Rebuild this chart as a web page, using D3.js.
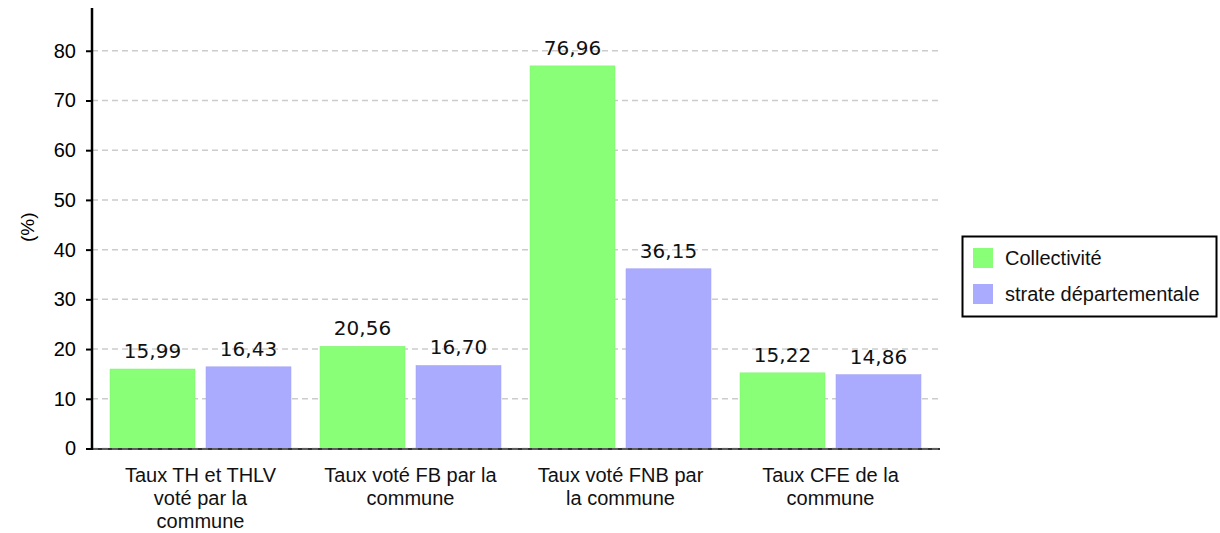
<!DOCTYPE html>
<html>
<head>
<meta charset="utf-8">
<script src="https://cdn.jsdelivr.net/npm/d3@7"></script>
<style>
  body { margin: 0; background: #fff; }
  svg { display: block; }
</style>
</head>
<body>
<div id="chart"></div>
<script>
const categories = [
  ['Taux TH et THLV', 'voté par la', 'commune'],
  ['Taux voté FB par la', 'commune'],
  ['Taux voté FNB par', 'la commune'],
  ['Taux CFE de la', 'commune']
];
const seriesNames = ['Collectivité', 'strate départementale'];
const collectivite = [15.99, 20.56, 76.96, 15.22];
const strate = [16.43, 16.70, 36.15, 14.86];
const yTicks = [0, 10, 20, 30, 40, 50, 60, 70, 80];
const colors = ['#88ff77', '#aaaaff'];

const width = 1220;
const height = 533;
const margin = { top: 8, left: 92, bottom: 84, right: 280 };
const font = 'Liberation Sans, Arial, sans-serif';

const svg = d3.select('#chart').append('svg')
  .attr('width', width)
  .attr('height', height);

const x = d3.scaleBand()
  .domain(d3.range(categories.length))
  .range([95.5, 935.5]);

// 85px bars, 11px gap, 14.5px at each side of a group
const x1 = d3.scaleBand()
  .domain(d3.range(seriesNames.length))
  .range([0, x.bandwidth()])
  .paddingInner(11 / 96)
  .paddingOuter(14.5 / 96);

const y = d3.scaleLinear()
  .domain([0, 88.6])
  .range([height - margin.bottom - 0.5, margin.top]);

// grid
svg.append('g')
  .selectAll('line')
  .data(yTicks)
  .join('line')
  .attr('x1', margin.left)
  .attr('x2', 940)
  .attr('y1', (d) => y(d))
  .attr('y2', (d) => y(d))
  .attr('stroke', '#cccccc')
  .attr('stroke-width', 1.5)
  .attr('stroke-dasharray', '6,4');

// bars
const data = [collectivite, strate];
const groups = svg.append('g')
  .selectAll('g')
  .data(categories.map((c, i) => i))
  .join('g')
  .attr('transform', (i) => `translate(${x(i)},0)`);

groups.selectAll('rect')
  .data((i) => data.map((s, j) => ({ j, v: s[i] })))
  .join('rect')
  .attr('x', (d) => x1(d.j))
  .attr('width', x1.bandwidth())
  .attr('y', (d) => y(d.v))
  .attr('height', (d) => y(0) - y(d.v))
  .attr('fill', (d) => colors[d.j])
  .attr('stroke', (d) => d3.color(colors[d.j]).darker(0.15))
  .attr('stroke-width', 0.5);

groups.selectAll('text.val')
  .data((i) => data.map((s, j) => ({ j, v: s[i] })))
  .join('text')
  .attr('class', 'val')
  .attr('x', (d) => x1(d.j) + x1.bandwidth() / 2)
  .attr('y', (d) => y(d.v) - 11)
  .attr('text-anchor', 'middle')
  .attr('font-family', 'DejaVu Sans')
  .attr('font-size', 20)
  .attr('fill', '#111')
  .text((d) => d.v.toFixed(2).replace('.', ','));

// zero baseline
svg.append('line')
  .attr('x1', margin.left)
  .attr('x2', 940)
  .attr('y1', y(0) + 0.5)
  .attr('y2', y(0) + 0.5)
  .attr('stroke', '#333')
  .attr('stroke-width', 2);
svg.append('line')
  .attr('x1', margin.left)
  .attr('x2', 940)
  .attr('y1', y(0) + 0.5)
  .attr('y2', y(0) + 0.5)
  .attr('stroke', '#888')
  .attr('stroke-width', 1)
  .attr('stroke-dasharray', '6,4');

// y axis
const yAxis = svg.append('g')
  .attr('transform', `translate(${margin.left},0)`)
  .call(d3.axisLeft(y).tickValues(yTicks).tickSize(6).tickPadding(10).tickSizeOuter(0));
yAxis.select('.domain').remove();
yAxis.selectAll('.tick line').attr('stroke', '#000').attr('stroke-width', 2);
yAxis.selectAll('.tick text')
  .attr('font-family', font)
  .attr('font-size', 20)
  .attr('fill', '#000');
svg.append('line')
  .attr('x1', margin.left)
  .attr('x2', margin.left)
  .attr('y1', margin.top)
  .attr('y2', y(0) + 1.5)
  .attr('stroke', '#000')
  .attr('stroke-width', 2.5);

svg.append('text')
  .attr('transform', `translate(34,${y(44.5)}) rotate(-90)`)
  .attr('text-anchor', 'middle')
  .attr('font-family', font)
  .attr('font-size', 19)
  .text('(%)');

// category labels
const catLabels = svg.append('g')
  .selectAll('text')
  .data(categories)
  .join('text')
  .attr('x', (d, i) => x(i) + x.bandwidth() / 2)
  .attr('y', 482)
  .attr('text-anchor', 'middle')
  .attr('font-family', font)
  .attr('font-size', 20)
  .attr('fill', '#111');
catLabels.selectAll('tspan')
  .data((d) => d)
  .join('tspan')
  .attr('x', function () { return d3.select(this.parentNode).attr('x'); })
  .attr('dy', (d, k) => (k === 0 ? 0 : 23))
  .text((d) => d);

// legend
const legend = svg.append('g').attr('transform', 'translate(962,236)');
legend.append('rect')
  .attr('x', 0.5).attr('y', 0.5)
  .attr('width', 254).attr('height', 80)
  .attr('fill', '#fff')
  .attr('stroke', '#000')
  .attr('stroke-width', 2);
seriesNames.forEach((name, i) => {
  legend.append('rect')
    .attr('x', 11).attr('y', 12 + i * 36)
    .attr('width', 20).attr('height', 20)
    .attr('fill', colors[i]);
  legend.append('text')
    .attr('x', 43).attr('y', 29 + i * 36)
    .attr('font-family', font)
    .attr('font-size', 20)
    .attr('fill', '#111')
    .text(name);
});
</script>
</body>
</html>
